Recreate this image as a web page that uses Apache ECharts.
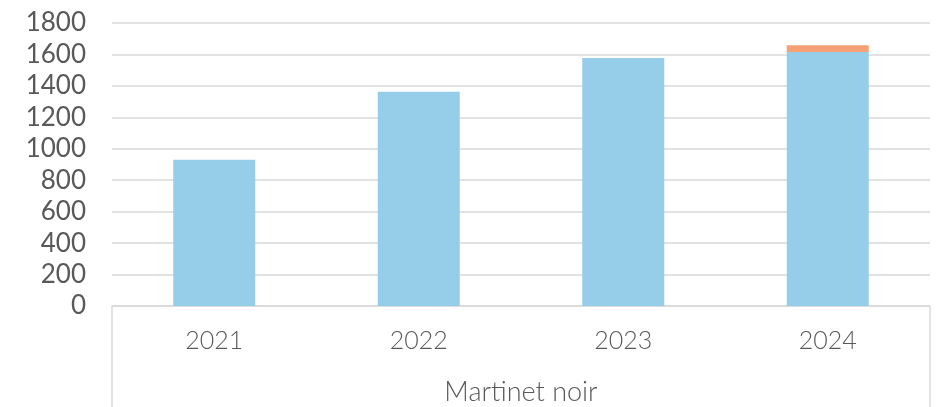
<!DOCTYPE html>
<html>
<head>
<meta charset="utf-8">
<script src="https://cdn.jsdelivr.net/npm/echarts@6/dist/echarts.min.js"></script>
<style>
html,body{margin:0;padding:0;background:#fff;}
#chart{width:936px;height:407px;}
</style>
</head>
<body>
<div id="chart"></div>
<script>
const years = ['2021', '2022', '2023', '2024'];
const groupLabel = ['Martinet noir'];
const blueValues = [930, 1363, 1578, 1615];
const orangeValues = [null, null, null, 43];

const chart = echarts.init(document.getElementById('chart'));
chart.setOption({
  animation: false,
  backgroundColor: '#ffffff',
  grid: { left: 112, right: 6, top: 23, bottom: 101, containLabel: false },
  xAxis: [
    {
      type: 'category',
      data: years,
      position: 'bottom',
      axisLine: { show: true, lineStyle: { color: '#d9d9d9', width: 1.5 } },
      axisTick: { show: false },
      axisLabel: { color: '#595959', fontSize: 25, fontFamily: 'Lato', fontWeight: 300, margin: 22 }
    },
    {
      type: 'category',
      data: groupLabel,
      position: 'bottom',
      axisLine: { show: false },
      axisTick: { show: true, alignWithLabel: false, length: 101, lineStyle: { color: '#d9d9d9', width: 1.5 } },
      axisLabel: { color: '#595959', fontSize: 27, fontFamily: 'Lato', fontWeight: 300, margin: 73 }
    }
  ],
  yAxis: {
    type: 'value',
    min: 0,
    max: 1800,
    interval: 200,
    axisLine: { show: false },
    axisTick: { show: false },
    splitLine: { lineStyle: { color: '#d9d9d9', width: 1.5 } },
    axisLabel: { color: '#595959', fontSize: 26, fontFamily: 'Lato', margin: 26, formatter: function (v) { return String(v); } }
  },
  series: [
    {
      type: 'bar',
      stack: 'total',
      data: blueValues,
      barWidth: 82,
      itemStyle: { color: '#96CEEA' }
    },
    {
      type: 'bar',
      stack: 'total',
      data: orangeValues,
      barWidth: 82,
      itemStyle: { color: '#F5A075' }
    }
  ]
});
</script>
</body>
</html>
